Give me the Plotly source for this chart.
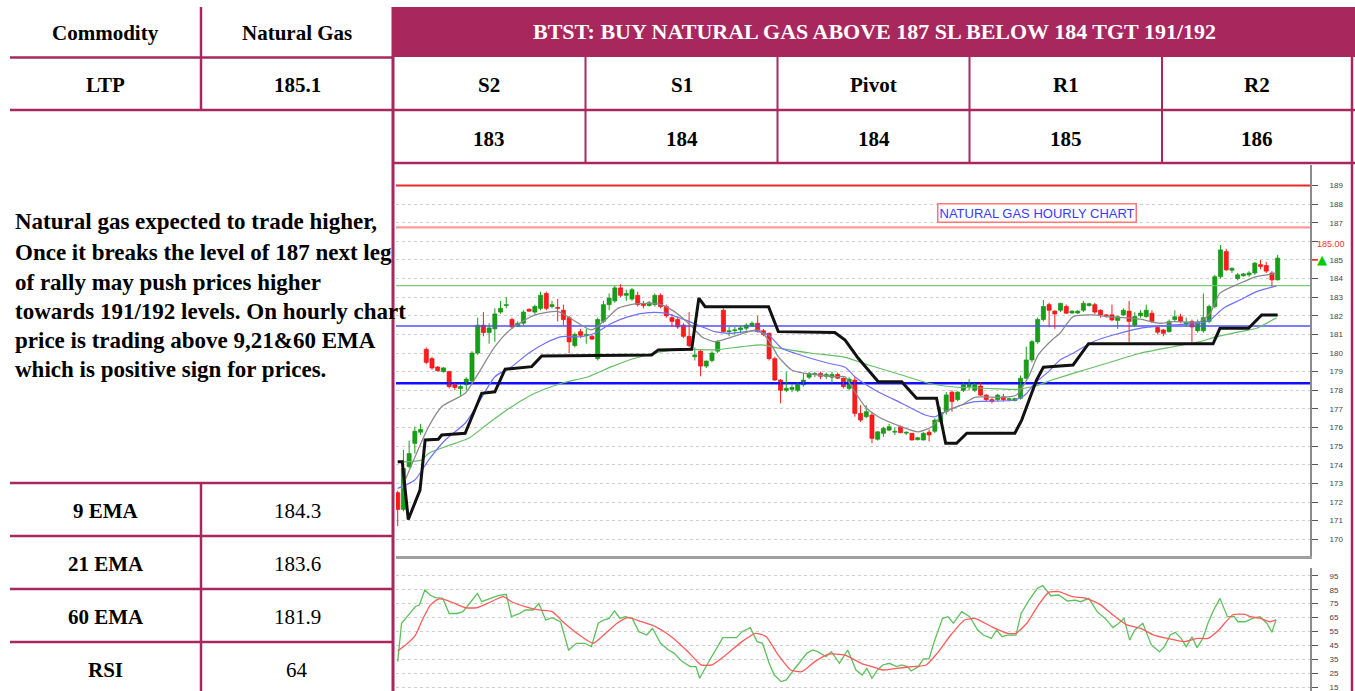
import plotly.graph_objects as go

# ---------------- data ----------------
bars = list(range(155))
opens = [172.5,171.6,173.9,175.15,175.75,180.2,179.7,179.25,179.0,179.0,
 178.3,178.1,178.3,178.5,180.0,181.5,181.1,181.3,182.2,182.55,
 181.8,181.45,181.6,182.35,182.2,182.4,183.2,182.5,182.45,182.3,
 181.9,180.4,181.15,180.95,180.9,179.7,181.7,182.6,182.8,183.5,
 183.1,182.9,183.1,182.65,182.55,182.6,183.1,182.5,181.9,181.8,
 181.5,180.9,179.8,180.1,179.3,179.6,180.1,182.3,181.15,181.2,
 181.25,181.33,181.45,181.6,181.2,181.06,179.7,178.55,178.0,178.05,
 178.0,178.3,178.7,178.85,178.9,178.75,178.7,178.85,178.65,178.1,
 178.55,176.76,176.58,176.67,175.37,175.69,175.86,175.75,176.04,175.7,
 175.69,175.35,175.33,175.75,175.8,176.3,176.85,177.9,177.5,178.0,
 178.2,178.0,178.23,177.74,177.5,177.5,177.65,177.5,177.45,177.57,
 178.65,179.63,180.6,181.8,182.6,182.25,182.3,182.5,182.15,182.15,
 182.3,182.55,182.6,182.3,182.05,182.05,181.75,182.05,182.25,181.5,
 182.0,181.96,182.14,181.37,181.24,181.15,181.8,181.95,181.55,181.7,
 181.2,181.2,181.7,182.5,184.1,185.45,184.45,184.0,184.15,184.2,
 184.3,184.75,184.7,184.3,183.93]
highs = [172.6,174.8,175.3,176.05,176.2,180.3,179.8,179.3,179.25,179.05,
 178.4,178.3,178.7,180.1,181.9,182.2,181.6,182.4,182.8,183.0,
 181.9,181.7,182.3,182.4,182.6,183.3,183.3,182.8,182.9,182.6,
 182.0,181.1,181.3,181.3,181.0,181.9,182.8,183.2,183.6,183.7,
 183.4,183.5,183.3,182.8,182.8,183.2,183.2,182.6,182.1,181.95,
 181.6,182.2,180.3,180.2,179.6,180.1,180.7,182.4,181.4,181.4,
 181.45,181.6,181.7,182.0,181.3,181.1,179.8,178.6,179.0,178.3,
 178.4,178.9,179.0,179.0,179.0,178.95,179.0,178.95,178.7,178.7,
 178.7,177.2,177.2,176.8,175.8,176.05,176.2,176.0,176.1,175.8,
 175.7,175.5,175.75,175.9,176.5,177.1,177.9,178.0,177.95,178.4,
 178.6,178.4,178.4,177.8,177.6,177.8,177.8,177.6,177.6,178.8,
 180.34,180.7,181.9,182.85,182.7,182.3,182.7,182.6,182.3,182.3,
 182.8,182.7,182.7,182.35,182.1,182.6,182.0,182.4,182.8,182.2,
 182.3,182.6,182.3,181.5,181.3,181.8,182.3,182.1,181.9,181.8,
 181.8,183.2,182.6,184.2,185.8,185.6,184.6,184.3,184.3,184.4,
 184.9,185.0,184.9,184.4,185.27]
lows = [170.7,171.5,173.8,174.6,175.6,179.4,179.1,179.0,178.95,178.1,
 178.0,177.7,178.0,178.4,179.9,180.9,180.5,180.6,182.1,182.4,
 181.3,181.4,181.5,182.2,182.1,182.3,182.3,182.4,181.7,181.5,
 180.0,180.3,180.8,180.5,180.7,179.6,181.6,182.3,182.7,183.0,
 182.8,182.8,182.5,182.4,182.5,182.5,182.4,181.9,181.4,181.3,
 180.8,180.3,179.6,178.75,179.2,179.5,180.0,181.1,180.9,181.0,
 181.1,181.2,181.4,181.1,180.9,179.6,178.5,177.3,177.9,177.9,
 177.9,178.2,178.6,178.7,178.6,178.6,178.4,178.6,178.1,178.0,
 176.58,176.3,176.5,175.15,175.3,175.5,175.8,175.6,175.7,175.6,
 175.3,175.3,175.3,175.25,175.7,176.2,176.7,176.85,177.4,177.9,
 178.0,177.9,177.7,177.4,177.3,177.4,177.4,177.4,177.4,177.5,
 178.6,179.5,180.5,181.7,181.4,181.3,182.2,182.1,182.1,182.1,
 182.2,182.5,182.1,181.9,181.9,181.7,181.3,182.0,180.6,181.4,
 181.9,181.9,181.6,181.0,180.9,181.1,181.7,181.6,181.4,180.6,
 181.1,181.1,181.6,182.4,184.0,184.4,184.3,183.9,184.1,184.1,
 184.2,184.5,184.3,183.57,183.9]
closes = [171.6,173.8,174.6,175.8,175.9,179.5,179.2,179.05,179.2,178.2,
 178.15,178.2,178.6,180.0,181.5,181.1,181.35,182.1,182.4,182.6,
 181.4,181.6,182.2,182.25,182.5,183.1,182.4,182.6,182.4,181.8,
 180.6,181.0,180.95,181.0,180.75,181.8,182.6,182.95,183.5,183.1,
 183.2,183.4,182.6,182.55,182.7,183.1,182.5,182.0,181.7,181.4,
 180.9,180.4,179.9,179.3,179.57,180.0,180.6,181.15,181.2,181.25,
 181.35,181.5,181.6,181.15,181.0,179.7,178.55,178.0,178.1,178.15,
 178.3,178.55,178.9,178.9,178.75,178.85,178.85,178.65,178.2,178.6,
 176.76,176.4,176.85,175.42,175.77,175.95,176.04,175.8,175.72,175.75,
 175.33,175.45,175.69,175.6,176.4,176.8,177.75,177.4,177.9,178.3,
 178.3,178.3,177.74,177.5,177.4,177.74,177.5,177.52,177.55,178.65,
 179.63,180.61,181.8,182.5,182.3,182.1,182.67,182.14,182.25,182.25,
 182.67,182.65,182.2,182.05,182.0,181.78,181.95,182.3,181.7,181.96,
 182.15,182.3,181.7,181.12,181.06,181.7,181.95,181.7,181.65,181.4,
 181.65,181.9,182.5,184.1,185.54,184.47,184.55,184.2,184.25,184.3,
 184.83,184.65,184.4,183.93,185.1]

ema9_bar = [0.7,5.4,7.7,11.8,14.1,17.0,19.65,24.0,28.1,31.6,33.95,36.3,38.6,41.5,45.6,47.95,50.9,53.2,55.5,57.9,
 61.4,63.1,64.9,66.6,68.95,71.3,76.5,78.3,79.45,81.8,84.1,88.2,91.1,93.45,95.8,98.7,101.0,105.7,108.3,110.4,
 112.1,114.5,115.9,118.2,121.7,124.1,129.9,133.4,135.7,140.4,142.2,143.9,147.4,150.3,152.95,153.8]
ema9_val = [172.73,176.04,177.12,177.84,178.91,180.34,181.24,182.05,182.23,181.6,181.24,181.78,182.41,182.64,182.64,182.32,181.6,180.88,180.61,180.8,
 181.15,181.24,180.7,179.81,179.09,178.91,178.73,178.73,178.19,177.12,176.58,176.04,175.77,176.04,176.85,177.21,177.62,177.62,177.75,178.73,
 179.9,180.7,181.06,181.96,182.05,181.96,181.82,181.6,181.69,181.69,182.14,183.22,183.75,184.11,184.24,184.3]

ema21_bar = [0,3.0,5.4,8.3,11.8,14.1,17.0,19.95,22.9,25.8,28.7,32.2,34.5,37.45,40.4,43.9,46.8,50.3,53.2,55.5,
 58.45,62.5,64.9,67.2,69.5,75.4,78.3,80.0,83.5,88.2,92.3,94.0,95.8,98.7,101.0,108.0,109.8,111.5,113.9,115.9,
 118.2,121.7,125.2,129.9,135.7,140.4,142.2,144.5,147.4,150.3,153.8]
ema21_val = [172.73,173.18,174.25,175.33,176.23,177.3,178.73,179.27,179.99,180.53,180.88,180.88,181.06,181.6,181.96,182.17,182.14,181.78,181.42,181.15,
 181.06,181.19,180.97,180.26,179.99,179.45,179.24,178.73,178.02,177.3,176.67,176.58,176.85,177.21,177.39,177.48,177.75,178.38,179.0,179.63,
 179.99,180.61,180.97,181.33,181.51,181.6,181.78,182.41,182.85,183.3,183.6]

ema60_bar = [0.7,4.2,5.4,8.3,12.4,15.9,19.95,24.0,28.7,33.4,37.45,41.5,46.2,50.9,55.5,60.2,63.7,66.6,72.45,78.3,
 82.4,88.2,92.9,96.95,102.8,108.0,111.5,114.5,118.2,124.1,129.9,135.7,140.4,143.3,147.4,150.3,153.8]
ema60_val = [174.16,174.25,174.61,174.97,175.42,176.23,177.12,177.84,178.38,178.73,179.27,179.72,180.08,180.2,180.17,180.34,180.44,180.26,179.99,179.77,
 179.36,178.82,178.38,178.19,178.11,178.05,178.23,178.55,178.91,179.45,179.99,180.34,180.61,180.88,181.15,181.33,181.9]

st_bar = [0,0.8,1.85,3.9,4.8,7.1,7.7,11.8,14.7,17.0,18.8,21.1,23.45,25.2,44.45,45.6,51.45,52.7,53.8,64.9,
 66.6,76.5,78.3,80.6,84.1,88.2,90.8,94.3,95.9,97.8,99.6,108.0,109.2,111.8,113.0,114.1,118.2,120.9,142.7,143.9,
 148.9,151.2,154]
st_val = [174.16,174.16,171.06,172.64,175.33,175.37,175.6,175.69,177.84,177.92,179.13,179.18,179.27,179.84,179.9,180.17,180.2,182.95,182.49,182.49,
 181.15,181.1,180.7,179.72,178.46,178.46,177.57,177.57,175.15,175.15,175.69,175.69,176.4,178.55,179.24,179.27,179.36,180.5,180.5,181.33,
 181.33,182.05,182.05]

rsi_bar = [0,0.67,1.9,3.1,3.8,4.75,5.7,6.65,7.9,9.0,10.4,11.4,12.8,13.95,14.7,16.1,17.55,19.0,19.9,21.35,
 22.3,23.7,24.7,25.9,27.05,28.5,29.9,31.3,32.7,33.9,35.1,36.05,37.0,37.95,38.9,39.85,41.05,42.2,43.6,44.6,
 46.0,47.4,48.4,49.8,51.2,52.2,52.85,54.1,55.5,56.9,58.35,59.3,60.25,61.7,62.9,63.85,65.0,65.9,67.1,68.0,
 69.3,70.7,71.6,72.6,73.5,74.95,75.9,77.3,78.75,80.2,81.3,82.1,83.0,83.96,84.9,86.05,87.3,88.2,89.2,89.85,
 91.1,92.0,93.0,93.9,95.35,96.3,97.25,98.7,100.1,101.5,102.5,103.9,104.8,105.8,106.7,108.2,109.1,110.5,111.95,112.9,
 114.3,115.7,117.2,118.6,119.5,120.96,122.4,123.8,125.2,126.2,127.1,128.1,129.0,130.4,131.9,133.3,134.2,135.2,136.1,137.1,
 138.0,139.0,139.9,140.9,141.8,142.8,143.9,145.2,146.4,147.05,148.3,149.7,150.9,152.1,153.0,153.7]
rsi_val = [33.6,61,67,73,74,84.8,81,79.3,78.8,68,68,69.3,76.4,82.4,76.4,78.8,80.7,81.7,65.7,68,
 70.5,70.5,75.2,63.3,65,62,41.9,46.7,46.7,44.3,61,63.3,64.5,69.8,64.5,65.7,64.5,55,52.6,57.4,
 46.7,41.9,39.5,33.6,30,30,21.7,31.2,40.7,50.7,50.7,50.7,55,57.9,47.9,46.7,32.4,24,19.3,20.5,
 27.6,34.8,39.5,41.9,40.7,37.1,40.7,32.4,41.9,27.6,24,28.8,21.7,27.6,31.2,32.4,30,31.2,30,26.9,
 30,35.5,35.5,47.9,64.5,65.7,61,69.3,65.7,56.2,52.6,50.2,56.2,51.4,52.6,52.6,68,77.6,86,87.9,
 80.7,81.2,76.9,77.6,76.4,78.8,69.3,64.5,57.9,61,64.5,49,56.2,61,45.5,40.7,44.3,52.6,54.5,50.2,
 44.3,51.4,43.6,50.2,61,70.5,78.8,65.7,65.7,62.1,62.1,64.6,65.7,61,54.6,63.4]

sig_bar = [0,1.4,3.1,4.3,5.7,7.1,8.5,9.97,11.9,13.8,15.7,18.5,19.9,22.3,24.7,27.05,28.9,31.8,34.2,36.05,
 38.4,40.3,42.7,45.1,47.9,50.8,53.1,55.0,57.4,60.25,62.6,64.5,66.4,68.8,70.7,73.0,75.4,78.3,81.1,83.0,
 84.9,87.3,90.1,92.5,94.4,96.8,99.2,101.0,103.9,106.7,108.2,110.1,111.95,113.9,115.7,118.1,120.5,122.9,125.2,127.6,
 130.0,132.3,135.2,137.6,139.9,141.8,143.7,146.1,148.3,149.2,150.9,152.6,153.7]
sig_val = [41.2,45.5,52.6,63.3,74,78.3,77.6,75.2,72.1,72.1,75.2,80,76.4,72.9,70.5,69.3,62.1,52.6,46.7,52.6,
 61,65,62.1,58.6,51.4,40.7,31.2,31.2,38.3,47.9,53.8,51.4,39.5,27.6,26.4,33.6,39,38.3,32.4,30,
 27.6,28.8,30,31.2,39.5,52.6,63.3,64.5,58.6,53.8,53.8,61,72.9,83.1,83.6,80,78.8,74.5,66.9,59.8,
 57.4,52.6,49.8,47.9,50.2,50.2,56.2,66.9,67.4,65.7,64.6,62.1,63.4]

level_vals = [189.0, 186.75, 183.62, 181.45, 178.38]
level_cols = ["#e8282c", "#ff9a9a", "#7acb7a", "#5050ff", "#1010ff"]
level_wids = [2, 2.2, 1.2, 1.5, 2.5]

price_ticks = list(range(170, 190))
rsi_ticks = [15, 25, 35, 45, 55, 65, 75, 85, 95]
ltp_marker = 185.0
ltp_label = "185.00"

title_text = "BTST: BUY NATURAL GAS ABOVE 187 SL BELOW 184 TGT 191/192"
pivot_heads = ["S2", "S1", "Pivot", "R1", "R2"]
pivot_vals = ["183", "184", "184", "185", "186"]
ind_names = ["9 EMA", "21 EMA", "60 EMA", "RSI"]
ind_vals = ["184.3", "183.6", "181.9", "64"]
para_lines = ["Natural gas expected to trade higher,",
              "Once it breaks the level of 187 next leg",
              "of rally may push prices higher",
              "towards 191/192 levels. On hourly chart",
              "price is trading above 9,21&60 EMA",
              "which is positive sign for prices."]

# ---------------- layout helpers ----------------
W, H = 1355, 691
def fx(p): return p / W
def fy(p): return 1 - p / H

MAG = "#a8285e"
SERIF = "Liberation Serif"
UP_FILL, UP_LINE = "#16a016", "#0b830b"
DN_FILL, DN_LINE = "#ff1c1c", "#e00000"
xrange = [-0.3, 159.66]

fig = go.Figure()

# horizontal level lines (under the candles, over the grid)
for v, c, w in zip(level_vals, level_cols, level_wids):
    fig.add_trace(go.Scatter(x=xrange, y=[v, v], mode="lines", line=dict(color=c, width=w),
                             xaxis="x", yaxis="y", showlegend=False, hoverinfo="skip"))

# candles: wicks + bodies
up_idx = [i for i in bars if closes[i] >= opens[i]]
dn_idx = [i for i in bars if closes[i] < opens[i]]
for idx, lc, fc in ((up_idx, UP_LINE, UP_FILL), (dn_idx, DN_LINE, DN_FILL)):
    wx, wy = [], []
    for i in idx:
        wx += [i, i, None]
        wy += [lows[i], highs[i], None]
    fig.add_trace(go.Scatter(x=wx, y=wy, mode="lines", line=dict(color=fc, width=1),
                             xaxis="x", yaxis="y", showlegend=False, hoverinfo="skip"))
    fig.add_trace(go.Bar(x=idx,
                         base=[min(opens[i], closes[i]) for i in idx],
                         y=[max(abs(closes[i] - opens[i]), 0.05) for i in idx],
                         width=0.72, marker=dict(color=fc, line=dict(color=lc, width=0.6)),
                         xaxis="x", yaxis="y", showlegend=False, hoverinfo="skip"))

fig.add_trace(go.Scatter(x=ema60_bar, y=ema60_val, mode="lines",
    line=dict(color="#66bf66", width=1.2, shape="spline", smoothing=0.6), xaxis="x", yaxis="y", showlegend=False))
fig.add_trace(go.Scatter(x=ema21_bar, y=ema21_val, mode="lines",
    line=dict(color="#6f6fff", width=1.2, shape="spline", smoothing=0.6), xaxis="x", yaxis="y", showlegend=False))
fig.add_trace(go.Scatter(x=ema9_bar, y=ema9_val, mode="lines",
    line=dict(color="#8a8a8a", width=1.3, shape="spline", smoothing=0.6), xaxis="x", yaxis="y", showlegend=False))
fig.add_trace(go.Scatter(x=st_bar, y=st_val, mode="lines",
    line=dict(color="#111111", width=3), xaxis="x", yaxis="y", showlegend=False))

fig.add_trace(go.Scatter(x=rsi_bar, y=rsi_val, mode="lines",
    line=dict(color="#5cc05c", width=1.3), xaxis="x2", yaxis="y2", showlegend=False))
fig.add_trace(go.Scatter(x=sig_bar, y=sig_val, mode="lines",
    line=dict(color="#ff5a5a", width=1.3, shape="spline", smoothing=0.5), xaxis="x2", yaxis="y2", showlegend=False))

shapes = []
# table decoration
def hline(y, x0, x1, w=2.5, col=MAG):
    shapes.append(dict(type="line", xref="paper", yref="paper", x0=fx(x0), x1=fx(x1),
                       y0=fy(y), y1=fy(y), line=dict(color=col, width=w)))
def vline(x, y0, y1, w=2.5, col=MAG):
    shapes.append(dict(type="line", xref="paper", yref="paper", x0=fx(x), x1=fx(x),
                       y0=fy(y0), y1=fy(y1), line=dict(color=col, width=w)))

shapes.append(dict(type="rect", xref="paper", yref="paper", x0=fx(392), x1=fx(1355),
                   y0=fy(57), y1=fy(7), fillcolor=MAG, line=dict(width=0)))
hline(57.5, 10, 393); hline(110, 10, 1355); hline(163, 393, 1355)
vline(201, 7, 110)
col_x = [393, 585.5, 777.5, 969.5, 1162, 1352]
for cx in col_x[1:-1]:
    vline(cx, 57, 163, w=2)
vline(393, 7, 691, w=3)
vline(1352, 57, 691, w=2.5)
row_y = [483, 536, 589, 642]
for ry in row_y:
    hline(ry, 10, 393)
vline(201, 483, 691)

# ltp dash on axis
shapes.append(dict(type="line", xref="paper", yref="y", x0=fx(1312), x1=fx(1318),
                   y0=ltp_marker, y1=ltp_marker, line=dict(color="#ff3030", width=1.5)))

ann = []
def txt(x, y, s, size=21, color="black", bold=True, xanchor="center", family=SERIF):
    ann.append(dict(x=fx(x), y=fy(y), xref="paper", yref="paper", text=("<b>%s</b>" % s) if bold else s,
                    showarrow=False, xanchor=xanchor, yanchor="middle",
                    font=dict(family=family, size=size, color=color)))

txt(105.5, 33, "Commodity")
txt(297, 33, "Natural Gas")
txt(105.5, 85, "LTP")
txt(297, 85, "185.1")
txt(874, 32, title_text, size=22, color="white")
for i in range(5):
    cx = (col_x[i] + col_x[i + 1]) / 2
    txt(cx, 85, pivot_heads[i])
    txt(cx, 139, pivot_vals[i])
for i in range(4):
    txt(105.5, row_y[i] + 27.5, ind_names[i])
    txt(297, row_y[i] + 27.5, ind_vals[i], bold=False)
para_y = [221, 252, 282, 311, 340, 369]
for s, yy in zip(para_lines, para_y):
    txt(13, yy, s, size=23, xanchor="left")

ann.append(dict(x=fx(1036.5), y=fy(213), xref="paper", yref="paper", text="NATURAL GAS HOURLY CHART",
                showarrow=False, xanchor="center", yanchor="middle",
                bgcolor="white", bordercolor="#ff7777", borderwidth=1.5, borderpad=1,
                font=dict(family="Liberation Sans", size=13, color="#3a3aff")))
ann.append(dict(x=fx(1331), y=fy(244), xref="paper", yref="paper", text=ltp_label, showarrow=False,
                xanchor="center", yanchor="middle",
                font=dict(family="Liberation Sans", size=9, color="#ff3030")))
ann.append(dict(x=fx(1321.5), y=ltp_marker, xref="paper", yref="y", text="▲", showarrow=False,
                xanchor="center", yanchor="middle",
                font=dict(family="DejaVu Sans", size=13, color="#00cc00")))

x_dom = [fx(396), fx(1310)]
axis_font = dict(family="Liberation Sans", size=8, color="#444")
price_text = ["" if t == 186 else str(t) for t in price_ticks]

fig.update_layout(
    width=W, height=H, margin=dict(l=0, r=0, t=0, b=0),
    paper_bgcolor="white", plot_bgcolor="white", showlegend=False, barmode="overlay",
    shapes=shapes, annotations=ann,
    xaxis=dict(domain=x_dom, range=xrange, showticklabels=False, showgrid=False, zeroline=False,
               showline=True, linecolor="#a0a0a0", linewidth=3, anchor="y", ticks=""),
    yaxis=dict(domain=[fy(556), fy(165)], range=[169.1, 190.1], side="right", anchor="x",
               tickvals=price_ticks, ticktext=price_text, ticks="outside", ticklen=6, tickcolor="#555",
               showline=True, linecolor="#8c8c8c", linewidth=2,
               showgrid=True, gridcolor="#cfcfcf", griddash="dot", gridwidth=1,
               zeroline=False, tickfont=axis_font, ticklabelstandoff=10),
    xaxis2=dict(domain=x_dom, range=xrange, showticklabels=False, showgrid=False, zeroline=False,
                showline=False, anchor="y2", ticks=""),
    yaxis2=dict(domain=[0, fy(568)], range=[12.6, 100.5], side="right", anchor="x2",
                tickvals=rsi_ticks, ticks="outside", ticklen=6, tickcolor="#555",
                showline=True, linecolor="#8c8c8c", linewidth=2,
                showgrid=True, gridcolor="#cfcfcf", griddash="dot", gridwidth=1,
                zeroline=False, tickfont=axis_font, ticklabelstandoff=10,
                ticklabeloverflow="allow"),
)

fig.write_html("out.html", config={"displayModeBar": False},
               post_script="document.body.style.margin='0px';document.body.style.overflow='hidden';")
